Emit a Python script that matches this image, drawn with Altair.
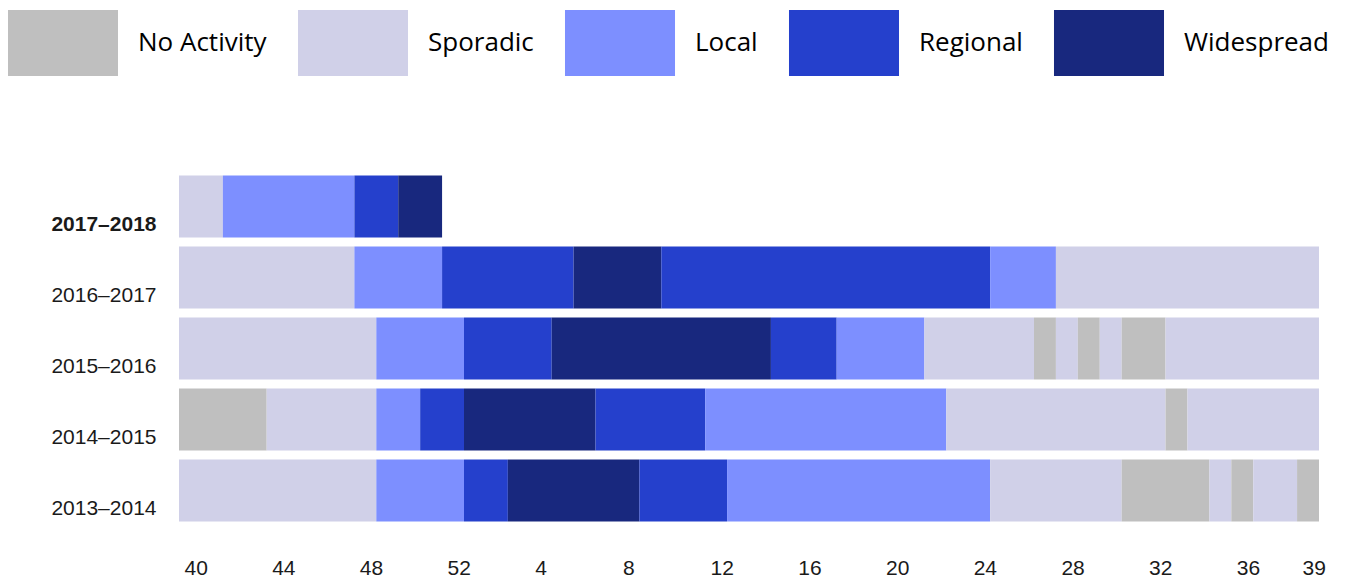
import altair as alt
import pandas as pd

# Activity levels and their colours
statuses = ["No Activity", "Sporadic", "Local", "Regional", "Widespread"]
status_colors = ["#bfbfbf", "#d0d0e8", "#7d8fff", "#2540cc", "#18287e"]

# MMWR weeks in season order (week 40 ... week 39)
weeks = list(range(40, 53)) + list(range(1, 40))
tick_weeks = [40, 44, 48, 52, 4, 8, 12, 16, 20, 24, 28, 32, 36, 39]

seasons = ["2017–2018", "2016–2017", "2015–2016", "2014–2015", "2013–2014"]

# Runs of (activity level, number of consecutive weeks), starting at week 40
runs_2017_2018 = [("Sporadic", 2), ("Local", 6), ("Regional", 2), ("Widespread", 2)]
runs_2016_2017 = [("Sporadic", 8), ("Local", 4), ("Regional", 6), ("Widespread", 4),
                  ("Regional", 15), ("Local", 3), ("Sporadic", 12)]
runs_2015_2016 = [("Sporadic", 9), ("Local", 4), ("Regional", 4), ("Widespread", 10),
                  ("Regional", 3), ("Local", 4), ("Sporadic", 5), ("No Activity", 1),
                  ("Sporadic", 1), ("No Activity", 1), ("Sporadic", 1),
                  ("No Activity", 2), ("Sporadic", 7)]
runs_2014_2015 = [("No Activity", 4), ("Sporadic", 5), ("Local", 2), ("Regional", 2),
                  ("Widespread", 6), ("Regional", 5), ("Local", 11), ("Sporadic", 10),
                  ("No Activity", 1), ("Sporadic", 6)]
runs_2013_2014 = [("Sporadic", 9), ("Local", 4), ("Regional", 2), ("Widespread", 6),
                  ("Regional", 4), ("Local", 12), ("Sporadic", 6), ("No Activity", 4),
                  ("Sporadic", 1), ("No Activity", 1), ("Sporadic", 2), ("No Activity", 1)]

season_runs = [runs_2017_2018, runs_2016_2017, runs_2015_2016, runs_2014_2015, runs_2013_2014]

rows = []
for season, runs in zip(seasons, season_runs):
    pos = 0
    for status, n in runs:
        rows.append({
            "season": season,
            "status": status,
            "start": pos,
            "end": pos + n,
            "first_week": weeks[pos],
            "last_week": weeks[pos + n - 1],
        })
        pos += n
df = pd.DataFrame(rows)

tick_positions = [weeks.index(w) + 0.5 for w in tick_weeks]
week_label_expr = "datum.value < 13 ? floor(datum.value) + 40 : floor(datum.value) - 12"

chart = alt.Chart(df).mark_rect().encode(
    x=alt.X(
        "start:Q",
        scale=alt.Scale(domain=[0, len(weeks)], nice=False, zero=False),
        axis=alt.Axis(
            values=tick_positions,
            labelExpr=week_label_expr,
            title=None,
            ticks=False,
            tickSize=0,
            domain=False,
            grid=False,
            labelFont="Liberation Sans",
            labelFontSize=21,
            labelColor="#1a1a1a",
            labelAlign="left",
            labelOffset=-6,
            labelPadding=31,
            labelFlush=False,
            labelOverlap=False,
        ),
    ),
    x2="end:Q",
    y=alt.Y(
        "season:N",
        sort=seasons,
        scale=alt.Scale(paddingInner=9 / 71, paddingOuter=4.5 / 71),
        axis=alt.Axis(
            title=None,
            ticks=False,
            tickSize=0,
            domain=False,
            grid=False,
            labelFont="Liberation Sans",
            labelFontSize=21,
            labelColor="#1a1a1a",
            labelPadding=23,
            labelOffset=18,
            labelFontWeight=alt.ExprRef(expr="datum.value == '2017–2018' ? 'bold' : 'normal'"),
        ),
    ),
    color=alt.Color(
        "status:N",
        scale=alt.Scale(domain=statuses, range=status_colors),
        legend=alt.Legend(
            title=None,
            orient="none",
            legendX=-149,
            legendY=-161,
            direction="horizontal",
            columns=5,
            symbolType="M-1.667,-1H1.667V1H-1.667Z",
            symbolSize=4356,
            symbolStrokeWidth=0,
            symbolOpacity=1,
            labelFont="Open Sans",
            labelFontSize=26,
            labelColor="#000000",
            labelOffset=42,
            labelLimit=400,
            columnPadding=30,
            padding=0,
        ),
    ),
    tooltip=["season:N", "status:N", "first_week:O", "last_week:O"],
).properties(
    width=1140,
    height=355,
    padding={"left": 22, "top": 2, "right": 0, "bottom": 0},
).configure_view(
    strokeWidth=0
)

chart.save("out.html", embed_options={"renderer": "svg", "actions": False})
